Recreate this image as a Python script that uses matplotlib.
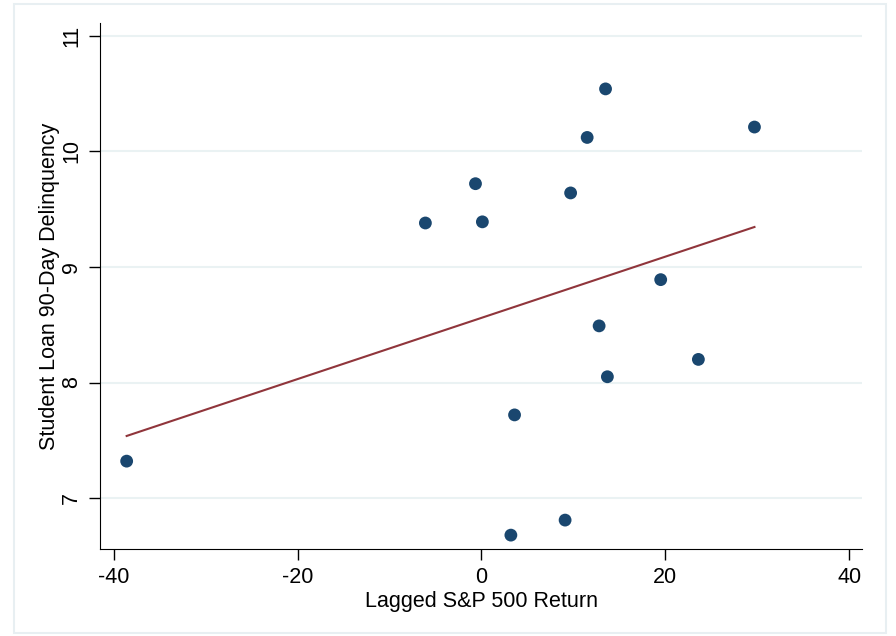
import numpy as np
import matplotlib.pyplot as plt
from matplotlib.patches import Rectangle

# lagged S&P 500 return (%) and student loan 90-day delinquency (%)
sp_return = [-38.6, -6.1, -0.65, 0.1, 3.6, 3.2, 9.1, 9.7, 11.5, 13.5, 12.8, 13.7, 19.5, 23.6, 29.7]
delinquency = [7.32, 9.38, 9.72, 9.39, 7.72, 6.68, 6.81, 9.64, 10.12, 10.54, 8.49, 8.05, 8.89, 8.20, 10.21]

x_ticks = [-40, -20, 0, 20, 40]
y_ticks = [7, 8, 9, 10, 11]

plt.rcParams['font.family'] = ['Liberation Sans', 'DejaVu Sans']
plt.rcParams['axes.unicode_minus'] = False

fig = plt.figure(figsize=(8.96, 6.36), dpi=100)
fig.patches.append(Rectangle((14 / 896, 3 / 636), 872 / 896, 629 / 636, transform=fig.transFigure,
                             fill=False, edgecolor='#e8eff2', linewidth=1.5))
ax = fig.add_axes([100 / 896, 1 - 549 / 636, 762 / 896, 526 / 636])

x = np.array(sp_return)
y = np.array(delinquency)
b, a = np.polyfit(x, y, 1)
xf = np.array([x.min(), x.max()])
ax.plot(xf, a + b * xf, color='#90353b', lw=1.5, zorder=2)
ax.scatter(x, y, s=85, color='#1a476f', edgecolors='none', zorder=3)

ax.set_xlim(-41.5, 41.4)
ax.set_ylim(6.56, 11.11)
ax.set_xticks(x_ticks)
ax.set_yticks(y_ticks)
ax.set_yticklabels([str(t) for t in y_ticks], rotation=90, va='center')
ax.grid(axis='y', color='#eaf2f3', lw=1.5)
ax.set_axisbelow(True)
for s in ['top', 'right']:
    ax.spines[s].set_visible(False)
ax.tick_params(direction='out', length=8, width=1, labelsize=15.5, pad=5)
ax.set_xlabel('Lagged S&P 500 Return', fontsize=15.5, labelpad=2)
ax.set_ylabel('Student Loan 90-Day Delinquency', fontsize=15.5, labelpad=1)

fig.savefig('out.png', dpi=100)
